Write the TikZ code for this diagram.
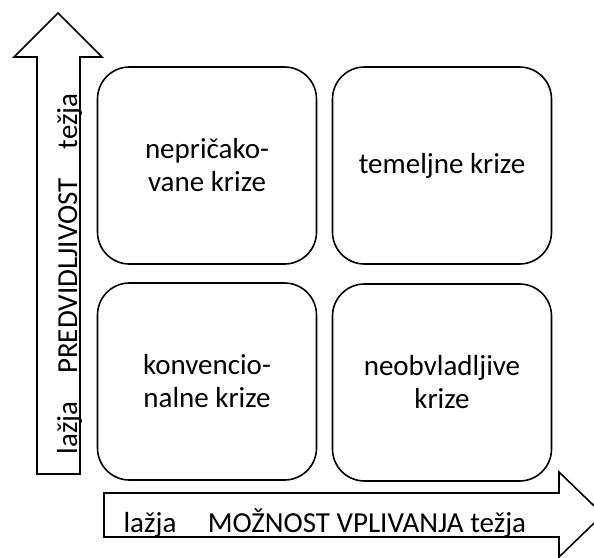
\documentclass[tikz,border=0pt]{standalone}
\usepackage{fontspec}
\setmainfont{Carlito}
\begin{document}
\begin{tikzpicture}[x=1pt,y=-1pt,
    krizabox/.style={draw, line width=1.6pt, rounded corners=32pt,
        minimum width=219pt, minimum height=197pt, align=center,
        font=\fontsize{29}{33}\selectfont},
    oslabel/.style={inner sep=0pt, anchor=base, font=\fontsize{29}{32}\selectfont}]
    % Page size (reference in pixels)
    \useasboundingbox (0,0) rectangle (594,557);
    \clip (0,0) rectangle (594,557);

    % Vertical arrow (predvidljivost)
    \draw[line width=1.6pt, line join=miter, fill=white]
        (37,474) -- (37,57) -- (14,57) -- (58,13) -- (102,57) -- (80,57) -- (80,474) -- cycle;

    % Horizontal arrow (moznost vplivanja)
    \draw[line width=1.6pt, line join=miter, fill=white]
        (104,493) -- (559,493) -- (559,472) -- (603,514.5) -- (559,557) -- (559,537) -- (104,537) -- cycle;

    % Four types of crises
    \node[krizabox] (nepricakovane) at (207,165.5) {nepričako-\\vane krize};
    \node[krizabox] (temeljne) at (442,165.5) {temeljne krize};
    \node[krizabox] (konvencionalne) at (207,381.5) {konvencio-\\nalne krize};
    \node[krizabox] (neobvladljive) at (442,382.5) {neobvladljive\\krize};

    % Axis labels
    \node[oslabel, rotate=90] (ylazja) at (77,428) {lažja};
    \node[oslabel, rotate=90] (ypredvid) at (77,276) {PREDVIDLJIVOST};
    \node[oslabel, rotate=90] (ytezja) at (77,121.5) {težja};

    \node[oslabel] (xlazja) at (150,532) {lažja};
    \node[oslabel] (xmoznost) at (367,532) {MOŽNOST VPLIVANJA težja};
\end{tikzpicture}
\end{document}
